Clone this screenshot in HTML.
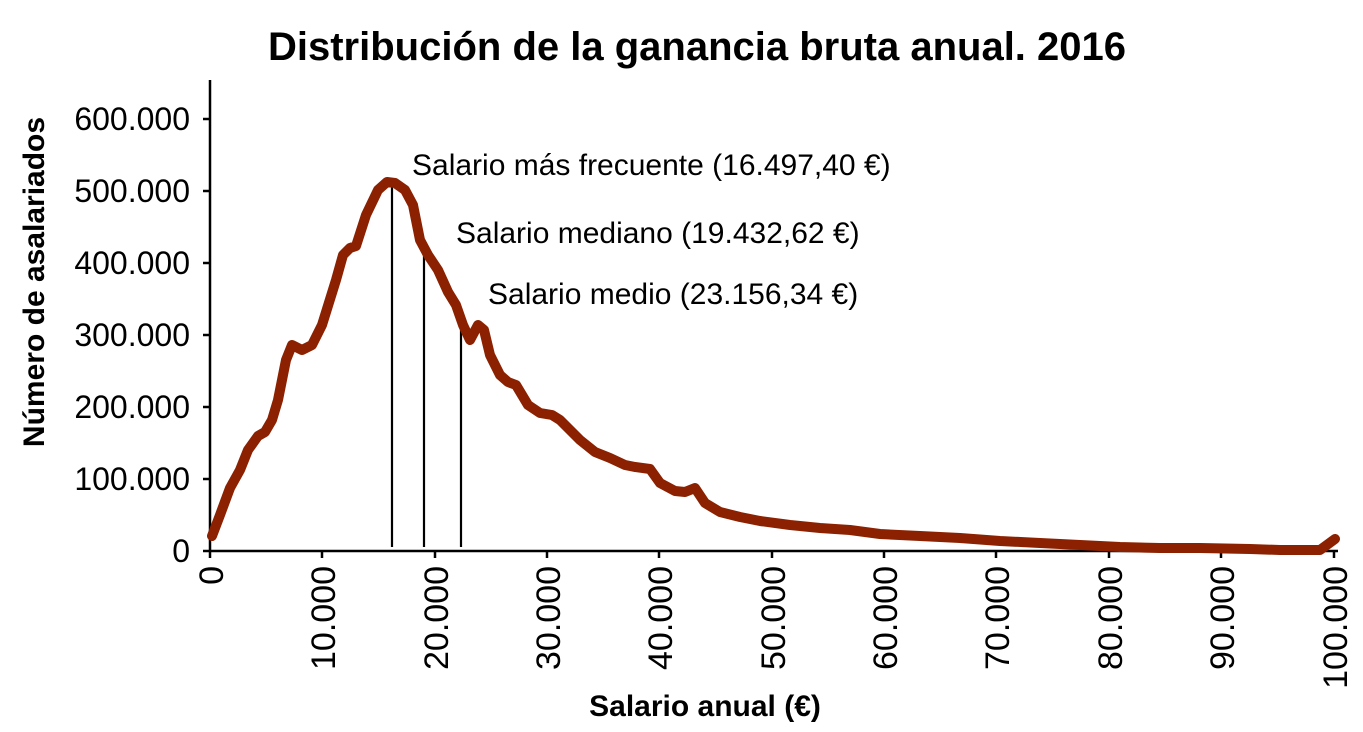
<!DOCTYPE html>
<html><head><meta charset="utf-8"><style>
html,body{margin:0;padding:0;background:#fff;}
svg{display:block;font-family:"Liberation Sans",Arial,sans-serif;}
</style></head><body>
<svg width="1363" height="732" viewBox="0 0 1363 732" xmlns="http://www.w3.org/2000/svg">
<text x="697" y="60" font-size="40" font-weight="bold" text-anchor="middle">Distribución de la ganancia bruta anual. 2016</text>
<text transform="translate(44,282) rotate(-90)" font-size="30" font-weight="bold" text-anchor="middle">Número de asalariados</text>
<text x="705" y="716" font-size="30" font-weight="bold" text-anchor="middle">Salario anual (€)</text>
<g stroke="#000" stroke-width="2.5">
<line x1="210" y1="80" x2="210" y2="552"/>
<line x1="209" y1="551" x2="1338" y2="551"/>
<line x1="203" y1="119" x2="210" y2="119"/>
<line x1="203" y1="191" x2="210" y2="191"/>
<line x1="203" y1="263" x2="210" y2="263"/>
<line x1="203" y1="335" x2="210" y2="335"/>
<line x1="203" y1="407" x2="210" y2="407"/>
<line x1="203" y1="479" x2="210" y2="479"/>
<line x1="203" y1="551" x2="210" y2="551"/>
<line x1="210" y1="551" x2="210" y2="558"/>
<line x1="322" y1="551" x2="322" y2="558"/>
<line x1="435" y1="551" x2="435" y2="558"/>
<line x1="547" y1="551" x2="547" y2="558"/>
<line x1="659" y1="551" x2="659" y2="558"/>
<line x1="772" y1="551" x2="772" y2="558"/>
<line x1="884" y1="551" x2="884" y2="558"/>
<line x1="996" y1="551" x2="996" y2="558"/>
<line x1="1109" y1="551" x2="1109" y2="558"/>
<line x1="1221" y1="551" x2="1221" y2="558"/>
<line x1="1334" y1="551" x2="1334" y2="558"/>
</g>
<g font-size="32" text-anchor="end">
<text x="190" y="130">600.000</text>
<text x="190" y="202">500.000</text>
<text x="190" y="274">400.000</text>
<text x="190" y="346">300.000</text>
<text x="190" y="418">200.000</text>
<text x="190" y="490">100.000</text>
<text x="190" y="562">0</text>
</g>
<g font-size="34" text-anchor="end">
<text transform="translate(223,566) rotate(-90)">0</text>
<text transform="translate(335,566) rotate(-90)">10.000</text>
<text transform="translate(448,566) rotate(-90)">20.000</text>
<text transform="translate(560,566) rotate(-90)">30.000</text>
<text transform="translate(672,566) rotate(-90)">40.000</text>
<text transform="translate(785,566) rotate(-90)">50.000</text>
<text transform="translate(897,566) rotate(-90)">60.000</text>
<text transform="translate(1009,566) rotate(-90)">70.000</text>
<text transform="translate(1122,566) rotate(-90)">80.000</text>
<text transform="translate(1234,566) rotate(-90)">90.000</text>
<text transform="translate(1347,566) rotate(-90)">100.000</text>
</g>
<g stroke="#000" stroke-width="2.2">
<line x1="392" y1="185" x2="392" y2="547"/>
<line x1="424" y1="250" x2="424" y2="547"/>
<line x1="461" y1="318" x2="461" y2="547"/>
</g>
<path fill="none" stroke="#8b2100" stroke-width="10" stroke-linejoin="round" stroke-linecap="round"
d="M212,536 L220,515 L230,488 L240,470 L248,450 L258,436 L265,432 L272,420 L278,400 L286,360 L292,345 L302,350 L312,345 L322,325 L336,280 L343,255 L350,248 L356,246 L366,215 L378,190 L387,182 L395,183 L405,190 L413,205 L420,240 L428,255 L438,270 L448,292 L456,305 L463,325 L470,340 L478,325 L484,330 L490,355 L500,375 L508,382 L516,385 L528,405 L540,413 L552,415 L560,420 L570,430 L580,440 L595,452 L610,458 L625,465 L635,467 L650,469 L660,483 L675,491 L685,492 L695,488 L705,503 L720,512 L740,517 L760,521 L790,525 L820,528 L850,530 L880,534 L920,536 L960,538 L1000,541 L1040,543 L1080,545 L1120,547 L1160,548 L1200,548 L1250,549 L1280,550 L1320,550 L1335,539"/>
<g font-size="30">
<text x="412" y="175">Salario más frecuente (16.497,40 €)</text>
<text x="456" y="243">Salario mediano (19.432,62 €)</text>
<text x="488" y="304">Salario medio (23.156,34 €)</text>
</g>
</svg>
</body></html>
